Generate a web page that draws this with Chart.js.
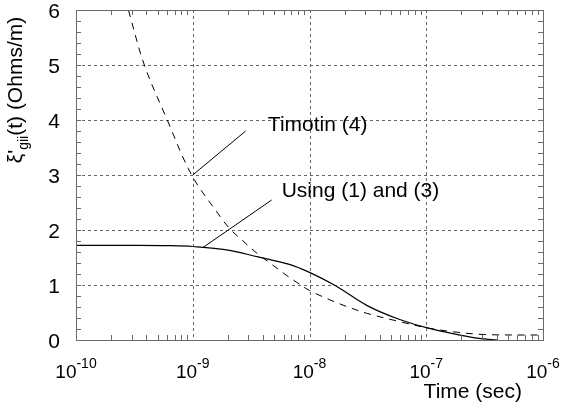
<!DOCTYPE html>
<html>
<head>
<meta charset="utf-8">
<script src="https://cdn.jsdelivr.net/npm/chart.js@4/dist/chart.umd.min.js"></script>
<style>
  html, body { margin: 0; padding: 0; background: #fff; }
  #wrap { width: 562px; height: 410px; }
</style>
</head>
<body>
<div id="wrap"><canvas id="c" width="562" height="410"></canvas></div>
<script>
// Impedance ξ'gii(t) versus time: two models
const usingTime   = [1e-10, 3.16e-10, 6.31e-10, 1e-9, 1.95e-9, 3.63e-9, 6.61e-9, 1e-8, 1.66e-8, 3.09e-8, 5.62e-8, 1.02e-7, 1.95e-7, 2.82e-7, 4.07e-7];
const usingValues = [1.72,  1.72,     1.715,    1.70, 1.64,    1.51,    1.38,    1.23, 0.99,    0.63,    0.39,    0.22,    0.09,    0.03,    0.0];

const timotinTime   = [2.81e-10, 3.85e-10, 6.05e-10, 9.79e-10, 1.71e-9, 2.08e-9, 2.63e-9, 3.63e-9, 4.79e-9, 6.03e-9, 7.76e-9, 1e-8, 1.32e-8, 1.66e-8, 2.14e-8, 3.16e-8, 6.03e-8, 1.02e-7, 1.70e-7, 3.09e-7, 1e-6];
const timotinValues = [6.0,      5.0,      4.0,      3.0,      2.25,    2.02,    1.82,    1.56,    1.37,    1.21,    1.05,    0.90, 0.78,    0.69,    0.60,    0.48,    0.33,    0.22,    0.15,    0.10,    0.09];

const decadeExponents = [-10, -9, -8, -7, -6];
const yTickLabels = ['0', '1', '2', '3', '4', '5', '6'];
const xTitle = 'Time (sec)';

// Callout text with a leader line pointing at a curve (value coordinates)
const callouts = [
  { text: 'Timotin (4)',       from: [1e-9, 3.0],      to: [2.84e-9, 3.8],   at: [4.40e-9, 3.8] },
  { text: 'Using (1) and (3)', from: [1.23e-9, 1.685], to: [4.74e-9, 2.545], at: [5.78e-9, 2.6] }
];

const FONT = '"Liberation Sans", Arial, Helvetica, sans-serif';

function toPoints(xs, ys) { return xs.map((x, i) => ({ x: x, y: ys[i] })); }

const frame = {
  id: 'frame',
  beforeDatasetsDraw(chart) {
    const { ctx, chartArea: a, scales: { x, y } } = chart;
    ctx.save();
    ctx.strokeStyle = '#666';
    ctx.lineWidth = 1;
    ctx.setLineDash([3, 3]);
    ctx.beginPath();
    decadeExponents.slice(1, -1).forEach(e => {
      const px = Math.round(x.getPixelForValue(Math.pow(10, e))) + 0.5;
      ctx.moveTo(px, a.top); ctx.lineTo(px, a.bottom);
    });
    for (let v = 1; v < yTickLabels.length - 1; v++) {
      const py = Math.round(y.getPixelForValue(v)) + 0.5;
      ctx.moveTo(a.left, py); ctx.lineTo(a.right, py);
    }
    ctx.stroke();
    ctx.restore();
  },
  afterDatasetsDraw(chart) {
    const { ctx, chartArea: a, scales: { x, y } } = chart;
    ctx.save();
    // box
    ctx.strokeStyle = '#6a6a6a';
    ctx.lineWidth = 1;
    ctx.strokeRect(Math.round(a.left) + 0.5, Math.round(a.top) + 0.5,
                   Math.round(a.right - a.left), Math.round(a.bottom - a.top));
    // minor ticks, pointing inward on all four sides
    ctx.beginPath();
    for (let i = 0; i < decadeExponents.length - 1; i++) {
      for (let m = 2; m <= 9; m++) {
        const px = Math.round(x.getPixelForValue(m * Math.pow(10, decadeExponents[i]))) + 0.5;
        ctx.moveTo(px, a.bottom); ctx.lineTo(px, a.bottom - 5);
        ctx.moveTo(px, a.top); ctx.lineTo(px, a.top + 5);
      }
    }
    for (let k = 1; k < 30; k++) {
      const py = Math.round(y.getPixelForValue(k * 0.2)) + 0.5;
      ctx.moveTo(a.left, py); ctx.lineTo(a.left + 5, py);
      ctx.moveTo(a.right, py); ctx.lineTo(a.right - 5, py);
    }
    ctx.stroke();

    ctx.fillStyle = '#000';
    // y tick labels
    ctx.font = '21px ' + FONT;
    ctx.textAlign = 'right';
    ctx.textBaseline = 'middle';
    yTickLabels.forEach((t, i) => {
      ctx.fillText(t, a.left - 16, y.getPixelForValue(i) + 2);
    });
    // x tick labels as powers of ten
    ctx.textAlign = 'left';
    ctx.textBaseline = 'alphabetic';
    decadeExponents.forEach(e => {
      const px = x.getPixelForValue(Math.pow(10, e));
      ctx.font = '19px ' + FONT;
      const wb = ctx.measureText('10').width;
      ctx.font = '14px ' + FONT;
      const we = ctx.measureText(String(e)).width;
      const x0 = px - (wb + we) / 2;
      ctx.font = '19px ' + FONT;
      ctx.fillText('10', x0, a.bottom + 38);
      ctx.font = '14px ' + FONT;
      ctx.fillText(String(e), x0 + wb, a.bottom + 28);
    });
    // x title
    ctx.font = '21px ' + FONT;
    ctx.textAlign = 'right';
    ctx.fillText(xTitle, 522, a.bottom + 58);

    // y title, rotated, with subscript
    ctx.save();
    ctx.rotate(-Math.PI / 2);
    ctx.textAlign = 'left';
    const parts = [
      { t: 'ξ\'', f: '21px ', dy: 0 },
      { t: 'gii', f: '14px ', dy: 6 },
      { t: '(t) (Ohms/m)', f: '21px ', dy: 0 }
    ];
    let total = 0;
    parts.forEach(p => { ctx.font = p.f + FONT; p.w = ctx.measureText(p.t).width; total += p.w; });
    let cx = -90 - total / 2;
    parts.forEach(p => {
      ctx.font = p.f + FONT;
      ctx.fillText(p.t, cx, 22 + p.dy);
      cx += p.w;
    });
    ctx.restore();

    // callouts
    ctx.font = '21px ' + FONT;
    ctx.textAlign = 'left';
    ctx.lineWidth = 1;
    ctx.strokeStyle = '#000';
    callouts.forEach(c => {
      ctx.beginPath();
      ctx.moveTo(x.getPixelForValue(c.from[0]), y.getPixelForValue(c.from[1]));
      ctx.lineTo(x.getPixelForValue(c.to[0]), y.getPixelForValue(c.to[1]));
      ctx.stroke();
      ctx.fillText(c.text, x.getPixelForValue(c.at[0]), y.getPixelForValue(c.at[1]));
    });
    ctx.restore();
  }
};

new Chart(document.getElementById('c'), {
  type: 'line',
  data: {
    datasets: [
      {
        label: 'Using (1) and (3)',
        data: toPoints(usingTime, usingValues),
        borderColor: '#000',
        borderWidth: 1.2,
        pointRadius: 0,
        tension: 0.35,
        fill: false
      },
      {
        label: 'Timotin (4)',
        data: toPoints(timotinTime, timotinValues),
        borderColor: '#000',
        borderWidth: 1,
        borderDash: [7, 6],
        pointRadius: 0,
        tension: 0.35,
        fill: false
      }
    ]
  },
  options: {
    responsive: false,
    animation: false,
    devicePixelRatio: 1,
    layout: { padding: { top: 10, right: 19, left: 0, bottom: 0 } },
    plugins: { legend: { display: false }, tooltip: { enabled: false } },
    scales: {
      x: {
        type: 'logarithmic',
        min: 1e-10,
        max: 1e-6,
        ticks: { display: false },
        grid: { display: false },
        border: { display: false },
        afterFit(s) { s.height = 70; }
      },
      y: {
        type: 'linear',
        min: 0,
        max: 6,
        ticks: { display: false, stepSize: 1 },
        grid: { display: false },
        border: { display: false },
        afterFit(s) { s.width = 76; }
      }
    }
  },
  plugins: [frame]
});
</script>
</body>
</html>
